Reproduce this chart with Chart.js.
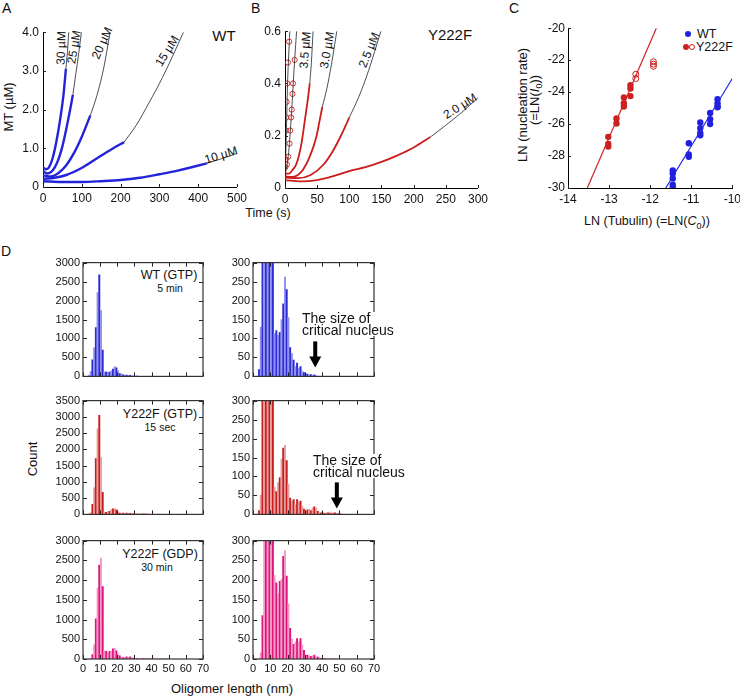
<!DOCTYPE html>
<html>
<head>
<meta charset="utf-8">
<script src="https://cdn.jsdelivr.net/npm/chart.js@4"></script>
<style>
body { margin: 0; width: 740px; height: 696px; overflow: hidden; background: #fff; position: relative;
       font-family: "Liberation Sans", Arial, sans-serif; color: #111; }
canvas { position: absolute; }
.t { position: absolute; white-space: nowrap; line-height: 1; }
.c { position: absolute; white-space: nowrap; line-height: 1; transform: translate(-50%, -50%); }
.dot { position: absolute; width: 6px; height: 6px; border-radius: 50%; box-sizing: border-box; }
</style>
</head>
<body>

<!-- panel letters -->
<div class="t" style="left:2px;top:1px;font-size:14px">A</div>
<div class="t" style="left:251px;top:1px;font-size:14px">B</div>
<div class="t" style="left:509px;top:1px;font-size:14px">C</div>
<div class="t" style="left:1px;top:244px;font-size:14px">D</div>

<!-- panel A / B text -->
<div class="c" style="left:224px;top:35px;font-size:15px">WT</div>
<div class="c" style="left:450px;top:34px;font-size:15px">Y222F</div>
<div class="c" style="left:268px;top:213px;font-size:12.5px">Time (s)</div>
<div class="c" style="left:8px;top:107px;font-size:13px;transform:translate(-50%,-50%) rotate(-90deg)">MT (µM)</div>

<div class="c" style="left:61px;top:48px;font-size:12px;transform:translate(-50%,-50%) rotate(-88deg)">30 µM</div>
<div class="c" style="left:74px;top:47px;font-size:12px;transform:translate(-50%,-50%) rotate(-80deg)">25 µM</div>
<div class="c" style="left:102px;top:43px;font-size:12px;transform:translate(-50%,-50%) rotate(-66deg)">20 µM</div>
<div class="c" style="left:167px;top:51px;font-size:12px;transform:translate(-50%,-50%) rotate(-58deg)">15 µM</div>
<div class="c" style="left:221px;top:155px;font-size:12px;transform:translate(-50%,-50%) rotate(-17deg)">10 µM</div>

<div class="c" style="left:305px;top:50px;font-size:12px;transform:translate(-50%,-50%) rotate(-85deg)">3.5 µM</div>
<div class="c" style="left:327px;top:50px;font-size:12px;transform:translate(-50%,-50%) rotate(-80deg)">3.0 µM</div>
<div class="c" style="left:369px;top:50px;font-size:12px;transform:translate(-50%,-50%) rotate(-68deg)">2.5 µM</div>
<div class="c" style="left:460px;top:106px;font-size:12px;transform:translate(-50%,-50%) rotate(-32deg)">2.0 µM</div>

<!-- panel C text -->
<div class="c" style="left:522px;top:105px;font-size:13px;transform:translate(-50%,-50%) rotate(-90deg)">LN (nucleation rate)</div>
<div class="c" style="left:536px;top:100px;font-size:13px;transform:translate(-50%,-50%) rotate(-90deg)">(=LN(<i>I</i><sub style="font-size:9px">0</sub>))</div>
<div class="c" style="left:647px;top:223px;font-size:12.5px">LN (Tubulin) (=LN(<i>C</i><sub style="font-size:9px">0</sub>))</div>
<div class="dot" style="left:685px;top:31px;background:#2020e0"></div>
<div class="t" style="left:697px;top:28px;font-size:12.5px">WT</div>
<div class="dot" style="left:683px;top:44px;background:#cc2020"></div>
<div class="dot" style="left:689px;top:44px;border:1px solid #cc2020"></div>
<div class="t" style="left:696px;top:41px;font-size:12.5px">Y222F</div>

<!-- panel D text -->
<div class="c" style="left:169px;top:275px;font-size:12.5px">WT (GTP)</div>
<div class="c" style="left:170px;top:288px;font-size:10.5px">5 min</div>
<div class="c" style="left:160px;top:414px;font-size:12.5px">Y222F (GTP)</div>
<div class="c" style="left:160px;top:427px;font-size:10.5px">15 sec</div>
<div class="c" style="left:160px;top:554px;font-size:12.5px">Y222F (GDP)</div>
<div class="c" style="left:157px;top:567px;font-size:10.5px">30 min</div>
<div class="c" style="left:32px;top:459px;font-size:13px;transform:translate(-50%,-50%) rotate(-90deg)">Count</div>
<div class="c" style="left:232px;top:688px;font-size:13px">Oligomer length (nm)</div>

<script>
// ---- panel A: WT polymerisation curves (time s, MT uM) ----
const wt30 = [[0,0.5],[8,0.46],[15,0.5],[25,0.75],[35,1.2],[45,1.8],[53,2.4],[59,3.05]];
const wt30Fit = [[59,3.05],[63,3.5],[66.3,4.0]];
const wt25 = [[0,0.42],[10,0.35],[20,0.38],[30,0.5],[40,0.72],[50,1.05],[60,1.5],[70,2.0],[77,2.38]];
const wt25Fit = [[77,2.38],[85,2.95],[92,3.45],[99,4.0]];
const wt20 = [[0,0.3],[20,0.27],[40,0.36],[60,0.56],[80,0.88],[100,1.3],[122,1.85]];
const wt20Fit = [[122,1.85],[140,2.4],[157,3.1],[173,4.0]];
const wt15 = [[0,0.21],[30,0.24],[60,0.31],[103,0.51],[145,0.78],[179,0.99],[209,1.16]];
const wt15Fit = [[209,1.16],[240,1.59],[274,2.19],[308,2.83],[334,3.38],[362,4.0]];
const wt10 = [[0,0.15],[50,0.13],[100,0.13],[150,0.15],[200,0.18],[250,0.24],[300,0.33],[350,0.43],[422,0.61]];
const wt10Fit = [[422,0.61],[460,0.73],[500,0.87]];

// ---- panel B: Y222F curves ----
const yOpenA = [[0.5,0.08],[1,0.11],[1.5,0.22],[2,0.27],[2.5,0.33],[3.5,0.4],[4.5,0.48],[6.5,0.56]];
const yOpenB = [[3,0.09],[5,0.12],[7,0.17],[8,0.22],[9.5,0.27],[10.5,0.3],[11.5,0.36],[12.5,0.4],[15,0.49]];
const yOpenFitA = [[0,0.04],[2,0.2],[4,0.4],[7.5,0.6]];
const yOpenFitB = [[0,0.05],[5,0.12],[10,0.28],[14,0.45],[18,0.6]];
const y35 = [[0,0.055],[6,0.055],[12,0.07],[18,0.094],[25.6,0.17],[30.8,0.258],[35.9,0.347],[38.5,0.4]];
const y35Fit = [[38.5,0.4],[41,0.48],[43.6,0.6]];
const y30 = [[0,0.045],[10,0.042],[20,0.05],[28,0.07],[38.5,0.12],[48.7,0.195],[53.8,0.258],[58,0.31]];
const y30Fit = [[58,0.31],[65,0.38],[72,0.47],[80.5,0.6]];
const y25 = [[0,0.04],[20,0.038],[40,0.05],[60,0.09],[74,0.14],[87,0.2],[100,0.27]];
const y25Fit = [[100,0.27],[115,0.35],[130,0.45],[149,0.6]];
const y20 = [[0,0.03],[25,0.025],[50,0.03],[75,0.045],[100,0.065],[125,0.08],[150,0.1],[175,0.125],[200,0.155],[226,0.195]];
const y20Fit = [[226,0.195],[250,0.24],[275,0.29],[300,0.345]];

// ---- panel C: LN(rate) vs LN(tubulin) ----
const cWtX = [-11.45,-11.45,-11.45,-11.45,-11.45,-11.06,-11.06,-11.06,-10.78,-10.78,-10.78,-10.78,-10.54,-10.54,-10.54,-10.36,-10.36,-10.36,-10.36];
const cWtY = [-28.9,-29.1,-29.4,-29.8,-29.95,-27.2,-27.9,-28.05,-25.9,-26.25,-26.55,-26.7,-25.3,-25.7,-26.0,-24.45,-24.7,-24.9,-24.95];
const cYX = [-13.02,-13.02,-13.02,-12.82,-12.82,-12.64,-12.64,-12.64,-12.48,-12.48,-12.48];
const cYY = [-26.8,-27.25,-27.4,-25.65,-25.96,-24.33,-24.7,-24.9,-23.56,-23.77,-24.25];
const cYOpenX = [-12.35,-12.35,-11.92,-11.92,-11.92];
const cYOpenY = [-22.88,-23.15,-22.1,-22.25,-22.38];
const cWtFit = [[-11.62,-30],[-10,-23.15]];
const cYFit = [[-13.53,-30],[-11.85,-20]];

// ---- panel D: oligomer length histograms ----
const oligoBins = [3,4,5,6,7,8,9,10,11,12,13,14,15,16,17,18,19,20,21,22,23,24,25,26,27,28,29,30,31,32,33,34,35,36,37,38,39,40,41,42,43,44,45,46,47,48,49,50];
const wtGtp =   [18,130,440,750,1290,2210,2680,1735,695,113,121,109,116,150,191,262,229,155,76,60,43,26,35,22,26,14,10,8,6,4,5,3,4,2,0,0,0,0,0,0,0,0,0,0,0,0,0,0];
const yGtp =    [10,51,310,820,1720,2630,3050,1760,680,72,60,84,97,146,175,182,142,80,43,35,39,26,39,33,35,22,14,10,12,14,10,17,20,17,8,5,4,6,3,5,4,6,3,5,4,3,2,3];
const yGdp =    [0,15,110,357,1020,1795,2377,2560,1836,212,193,165,197,202,260,275,210,140,78,50,37,43,52,43,52,35,22,10,10,8,7,8,10,6,5,3,2,2,1,0,0,0,0,0,0,0,0,0];
const nucleusSize = [36, 48.5];

Chart.defaults.font.family = '"Liberation Sans", Arial, sans-serif';
Chart.defaults.font.size = 12;
Chart.defaults.color = '#111';

const pts = a => a.map(([x, y]) => ({ x, y }));

// tick marks drawn inside the plot, optional frame box
const inTicks = {
    id: 'inTicks',
    afterDatasetsDraw(chart, args, o) {
        const { ctx, chartArea: a, scales: { x, y } } = chart;
        const len = o.len || 4;
        ctx.save();
        ctx.strokeStyle = '#222';
        ctx.lineWidth = 1;
        ctx.beginPath();
        x.ticks.forEach(t => {
            const p = Math.round(x.getPixelForValue(t.value)) + 0.5;
            ctx.moveTo(p, a.bottom); ctx.lineTo(p, a.bottom - len);
            if (o.box) { ctx.moveTo(p, a.top); ctx.lineTo(p, a.top + len); }
        });
        y.ticks.forEach(t => {
            const p = Math.round(y.getPixelForValue(t.value)) + 0.5;
            ctx.moveTo(a.left, p); ctx.lineTo(a.left + len, p);
            if (o.box) { ctx.moveTo(a.right, p); ctx.lineTo(a.right - len, p); }
        });
        ctx.stroke();
        if (o.box) {
            ctx.strokeStyle = '#333';
            ctx.lineWidth = 1.2;
            ctx.strokeRect(a.left, a.top, a.right - a.left, a.bottom - a.top);
        }
        ctx.restore();
    }
};

// black arrow pointing at the critical nucleus size
const nucArrow = {
    id: 'nucArrow',
    afterDatasetsDraw(chart, args, o) {
        if (o.at == null) return;
        const { ctx, chartArea: a, scales: { x } } = chart;
        const px = x.getPixelForValue(o.at);
        const tip = a.bottom - o.gap;
        ctx.save();
        ctx.fillStyle = '#000';
        ctx.fillRect(px - 2, tip - o.len, 4, o.len - 10);
        ctx.beginPath();
        ctx.moveTo(px - 6, tip - 11);
        ctx.lineTo(px + 6, tip - 11);
        ctx.lineTo(px, tip);
        ctx.closePath();
        ctx.fill();
        ctx.restore();
    }
};

function panel(box, cfg) {
    const c = document.createElement('canvas');
    const W = box.w + box.yW + box.pr, H = box.h + box.pt + box.xH;
    c.width = W; c.height = H;
    c.style.left = (box.l - box.yW) + 'px';
    c.style.top = (box.t - box.pt) + 'px';
    c.style.width = W + 'px';
    c.style.height = H + 'px';
    document.body.appendChild(c);
    const o = cfg.options;
    o.responsive = false;
    o.animation = false;
    o.layout = { padding: { top: box.pt, right: box.pr, left: 0, bottom: 0 } };
    o.scales.x.afterFit = s => { s.height = box.xH; };
    o.scales.y.afterFit = s => { s.width = box.yW; };
    return new Chart(c, cfg);
}

function axis(min, max, step, fmt, pad) {
    return {
        type: 'linear', min, max,
        grid: { display: false, drawTicks: false },
        border: { display: true, color: '#000', width: 1 },
        ticks: { stepSize: step, padding: pad || 4, autoSkip: false, maxRotation: 0,
                 callback: fmt || (v => String(v)) }
    };
}

const dataLine = (d, color, w) => ({ data: pts(d), showLine: true, borderColor: color, borderWidth: w,
    pointRadius: 0, cubicInterpolationMode: 'monotone' });
const fitLine = d => ({ data: pts(d), showLine: true, borderColor: '#222', borderWidth: 0.8,
    pointRadius: 0, cubicInterpolationMode: 'monotone' });

// ---- A ----
const blue = '#2323dc';
panel({ l: 43, t: 31, w: 196, h: 156, yW: 43, pt: 10, pr: 12, xH: 18 }, {
    type: 'scatter',
    data: { datasets: [
        fitLine(wt30Fit), fitLine(wt25Fit), fitLine(wt20Fit), fitLine(wt15Fit), fitLine(wt10Fit),
        dataLine(wt30, blue, 2.4), dataLine(wt25, blue, 2.4), dataLine(wt20, blue, 2.4),
        dataLine(wt15, blue, 2.4), dataLine(wt10, blue, 2.4)
    ] },
    options: {
        plugins: { legend: { display: false }, tooltip: { enabled: false }, inTicks: { len: 3 } },
        scales: {
            x: axis(0, 500, 100),
            y: axis(0, 4, 1, v => v === 0 ? '0' : v.toFixed(1))
        }
    },
    plugins: [inTicks]
});

// ---- B ----
const red = '#cc1c1c';
const openPts = d => ({ data: pts(d), showLine: false, pointRadius: 2.6, pointBorderWidth: 0.9,
    pointBorderColor: red, pointBackgroundColor: 'rgba(0,0,0,0)' });
panel({ l: 285, t: 30, w: 195, h: 158, yW: 33, pt: 10, pr: 12, xH: 18 }, {
    type: 'scatter',
    data: { datasets: [
        fitLine(yOpenFitA), fitLine(yOpenFitB),
        fitLine(y35Fit), fitLine(y30Fit), fitLine(y25Fit), fitLine(y20Fit),
        dataLine(y35, red, 1.8), dataLine(y30, red, 1.8), dataLine(y25, red, 1.8), dataLine(y20, red, 1.8),
        openPts(yOpenA), openPts(yOpenB)
    ] },
    options: {
        plugins: { legend: { display: false }, tooltip: { enabled: false }, inTicks: { len: 3 } },
        scales: {
            x: axis(0, 300, 50),
            y: axis(0, 0.6, 0.2, v => v === 0 ? '0' : v.toFixed(1))
        }
    },
    plugins: [inTicks]
});

// ---- C ----
const zip = (xs, ys) => xs.map((x, i) => ({ x, y: ys[i] }));
panel({ l: 568, t: 28, w: 165, h: 160, yW: 30, pt: 10, pr: 12, xH: 18 }, {
    type: 'scatter',
    data: { datasets: [
        { data: pts(cYFit), showLine: true, borderColor: '#d02424', borderWidth: 1.2, pointRadius: 0 },
        { data: pts(cWtFit), showLine: true, borderColor: '#2424e0', borderWidth: 1.2, pointRadius: 0 },
        { data: zip(cWtX, cWtY), pointRadius: 3.2, pointBackgroundColor: '#2020e0', pointBorderWidth: 0 },
        { data: zip(cYX, cYY), pointRadius: 3.2, pointBackgroundColor: '#cc2020', pointBorderWidth: 0 },
        { data: zip(cYOpenX, cYOpenY), pointRadius: 3, pointBackgroundColor: 'rgba(0,0,0,0)',
          pointBorderColor: '#cc2020', pointBorderWidth: 1 }
    ] },
    options: {
        plugins: { legend: { display: false }, tooltip: { enabled: false }, inTicks: { len: 3 } },
        scales: {
            x: axis(-14, -10, 1),
            y: axis(-30, -20, 2, null, 3)
        }
    },
    plugins: [inTicks]
});

// ---- D ----
function hist(box, counts, dark, light, ymax, ystep, showX, arrowAt, arrowGap) {
    return panel(box, {
        type: 'bar',
        data: { datasets: [{
            data: oligoBins.map((b, i) => ({ x: b + 0.5, y: counts[i] })),
            backgroundColor: oligoBins.map((b, i) => i % 2 ? light : dark),
            barThickness: 1.3, borderWidth: 0
        }] },
        options: {
            plugins: { legend: { display: false }, tooltip: { enabled: false },
                       inTicks: { len: 4, box: true },
                       nucArrow: { at: arrowAt, gap: arrowGap, len: 26 } },
            scales: {
                x: { type: 'linear', min: 0, max: 70, offset: false,
                     grid: { display: false, drawTicks: false }, border: { display: false },
                     ticks: { stepSize: 10, padding: 3, autoSkip: false, maxRotation: 0,
                              font: { size: 11 }, color: showX ? '#111' : 'rgba(0,0,0,0)' } },
                y: { min: 0, max: ymax,
                     grid: { display: false, drawTicks: false }, border: { display: false },
                     ticks: { stepSize: ystep, padding: 3, autoSkip: false, font: { size: 11 },
                              callback: v => String(v) } }
            }
        },
        plugins: [inTicks, nucArrow]
    });
}

const wtDark = '#2b2bd8', wtLight = '#9292ec';
const rDark = '#c81e1e', rLight = '#eaa0a0';
const mDark = '#e0147c', mLight = '#f29cc8';

hist({ l: 83, t: 261, w: 120, h: 121, yW: 30, pt: 8, pr: 12, xH: 4 }, wtGtp, wtDark, wtLight, 3000, 500, false);
hist({ l: 253, t: 261, w: 121, h: 121, yW: 25, pt: 8, pr: 12, xH: 4 }, wtGtp, wtDark, wtLight, 300, 50, false, nucleusSize[0], 9);
hist({ l: 83, t: 399, w: 120, h: 121, yW: 30, pt: 8, pr: 12, xH: 4 }, yGtp, rDark, rLight, 3500, 500, false);
hist({ l: 253, t: 399, w: 121, h: 121, yW: 25, pt: 8, pr: 12, xH: 4 }, yGtp, rDark, rLight, 300, 50, false, nucleusSize[1], 6);
hist({ l: 83, t: 539, w: 120, h: 120, yW: 30, pt: 8, pr: 12, xH: 16 }, yGdp, mDark, mLight, 3000, 500, true);
hist({ l: 253, t: 539, w: 121, h: 120, yW: 25, pt: 8, pr: 12, xH: 16 }, yGdp, mDark, mLight, 300, 50, true);
</script>

<!-- annotation text above the histogram frames -->
<div class="t" style="left:302px;top:312px;font-size:14px;line-height:12px;background:#fff">The size of<br>critical nucleus</div>
<div class="t" style="left:313px;top:454px;font-size:14px;line-height:12px;background:#fff">The size of<br>critical nucleus</div>
</body>
</html>
